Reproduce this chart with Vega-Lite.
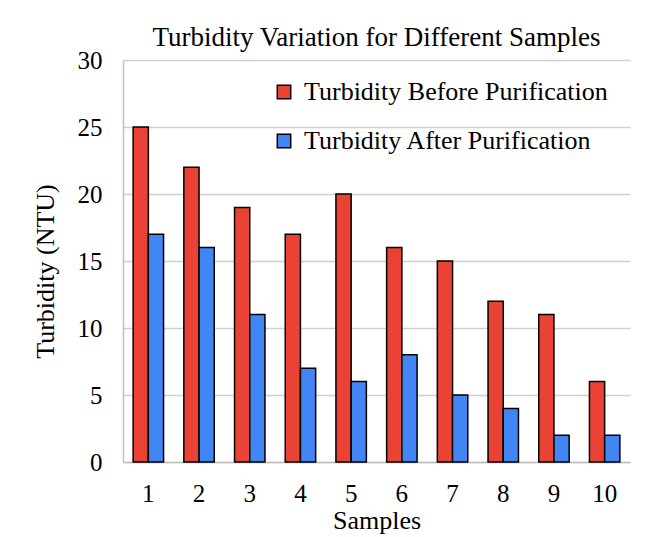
{
  "$schema": "https://vega.github.io/schema/vega-lite/v6.json",
  "autosize": "none",
  "width": 507,
  "height": 402,
  "padding": {"left": 123, "top": 60, "right": 17, "bottom": 75},
  "background": "white",
  "title": {"text": "Turbidity Variation for Different Samples", "font": "Liberation Serif", "fontSize": 27, "fontWeight": "normal", "color": "#000000", "anchor": "middle", "offset": -4},
  "data": {"values": [
    {"Sample": "1", "Series": "Turbidity Before Purification", "Turbidity": 25},
    {"Sample": "2", "Series": "Turbidity Before Purification", "Turbidity": 22},
    {"Sample": "3", "Series": "Turbidity Before Purification", "Turbidity": 19},
    {"Sample": "4", "Series": "Turbidity Before Purification", "Turbidity": 17},
    {"Sample": "5", "Series": "Turbidity Before Purification", "Turbidity": 20},
    {"Sample": "6", "Series": "Turbidity Before Purification", "Turbidity": 16},
    {"Sample": "7", "Series": "Turbidity Before Purification", "Turbidity": 15},
    {"Sample": "8", "Series": "Turbidity Before Purification", "Turbidity": 12},
    {"Sample": "9", "Series": "Turbidity Before Purification", "Turbidity": 11},
    {"Sample": "10", "Series": "Turbidity Before Purification", "Turbidity": 6},
    {"Sample": "1", "Series": "Turbidity After Purification", "Turbidity": 17},
    {"Sample": "2", "Series": "Turbidity After Purification", "Turbidity": 16},
    {"Sample": "3", "Series": "Turbidity After Purification", "Turbidity": 11},
    {"Sample": "4", "Series": "Turbidity After Purification", "Turbidity": 7},
    {"Sample": "5", "Series": "Turbidity After Purification", "Turbidity": 6},
    {"Sample": "6", "Series": "Turbidity After Purification", "Turbidity": 8},
    {"Sample": "7", "Series": "Turbidity After Purification", "Turbidity": 5},
    {"Sample": "8", "Series": "Turbidity After Purification", "Turbidity": 4},
    {"Sample": "9", "Series": "Turbidity After Purification", "Turbidity": 2},
    {"Sample": "10", "Series": "Turbidity After Purification", "Turbidity": 2}
  ]},
  "mark": {"type": "bar", "stroke": "#000000", "strokeWidth": 1.5},
  "encoding": {
    "x": {
      "field": "Sample", "type": "ordinal",
      "sort": ["1","2","3","4","5","6","7","8","9","10"],
      "scale": {"paddingInner": 0.4, "paddingOuter": 0.2},
      "axis": {"title": "Samples", "labelAngle": 0, "ticks": false, "labelPadding": 19, "titlePadding": 1, "domainColor": "#bfbfbf", "domainWidth": 1.5}
    },
    "xOffset": {"field": "Series", "type": "nominal", "sort": ["Turbidity Before Purification", "Turbidity After Purification"]},
    "y": {
      "field": "Turbidity", "type": "quantitative",
      "scale": {"domain": [0, 30], "nice": false},
      "axis": {"title": "Turbidity (NTU)", "values": [0,5,10,15,20,25,30], "ticks": false, "labelPadding": 21, "titlePadding": 19, "titleY": 211, "domainColor": "#bfbfbf", "domainWidth": 1.5, "grid": true, "gridColor": "#d0d0d0", "gridWidth": 1.5}
    },
    "color": {
      "field": "Series", "type": "nominal",
      "sort": ["Turbidity Before Purification", "Turbidity After Purification"],
      "scale": {"range": ["#EA4335", "#4285F4"]},
      "legend": {"title": null, "orient": "none", "legendX": 148, "legendY": 19, "symbolType": "square", "symbolSize": 180, "symbolStrokeColor": "#000000", "symbolStrokeWidth": 1.5, "rowPadding": 23, "labelOffset": 7}
    }
  },
  "config": {
    "font": "Liberation Serif",
    "view": {"stroke": null},
    "axis": {"labelFont": "Liberation Serif", "titleFont": "Liberation Serif", "labelFontSize": 25, "titleFontSize": 26, "titleFontWeight": "normal", "labelColor": "#000000", "titleColor": "#000000"},
    "legend": {"labelFont": "Liberation Serif", "labelFontSize": 26, "labelColor": "#000000", "labelLimit": 400}
  }
}
